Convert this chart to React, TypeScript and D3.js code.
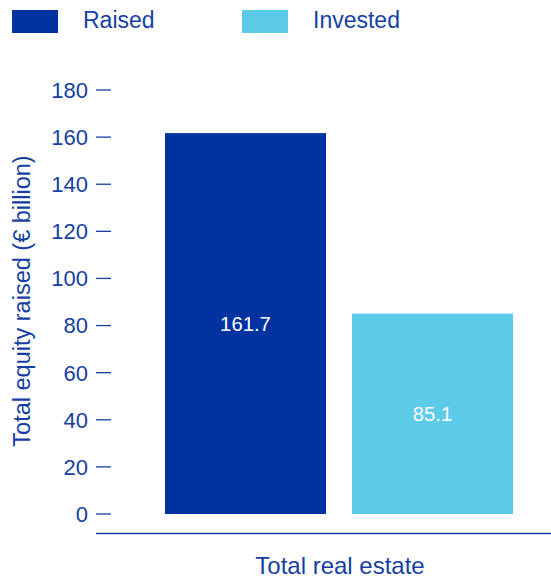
import React from "react";
import * as d3 from "d3";

const categories = ["Total real estate"];
const seriesNames = ["Raised", "Invested"];
const raisedValues = [161.7];
const investedValues = [85.1];
const yTicks = [0, 20, 40, 60, 80, 100, 120, 140, 160, 180];
const colors = ["#0033A0", "#5BCBE8"];
const textColor = "#163FA3";
const font = "'Liberation Sans', Arial, sans-serif";

export default function App() {
  const W = 551, H = 579;
  const y = d3.scaleLinear().domain([0, 180]).range([514, 90]);
  const x0 = d3.scaleBand<string>().domain(categories).range([165, 513]).padding(0);
  const x1 = d3.scaleBand<string>().domain(seriesNames).range([0, x0.bandwidth()]).paddingInner(0.139).paddingOuter(0);
  const series = [raisedValues, investedValues];

  return (
    <svg width={W} height={H} style={{ position: "absolute", left: 0, top: 0, fontFamily: font }}>
      {/* legend */}
      {seriesNames.map((s, i) => (
        <g key={s} transform={`translate(${[12, 242][i]},0)`}>
          <rect x={0} y={10} width={46} height={23} fill={colors[i]} />
          <text x={71} y={28} fontSize={23} fill={textColor}>{s}</text>
        </g>
      ))}
      {/* y ticks */}
      {yTicks.map((t) => (
        <g key={t}>
          <line x1={96} x2={111} y1={y(t)} y2={y(t)} stroke={textColor} strokeWidth={1.3} />
          <text x={88} y={y(t)} dy="0.36em" textAnchor="end" fontSize={22} fill={textColor}>{t}</text>
        </g>
      ))}
      {/* y label */}
      <text transform={`translate(30,301) rotate(-90)`} textAnchor="middle" fontSize={23.5} fill={textColor}>
        Total equity raised (€ billion)
      </text>
      {/* bars */}
      {categories.map((c, ci) => (
        <g key={c} transform={`translate(${x0(c)},0)`}>
          {seriesNames.map((s, si) => {
            const v = series[si][ci];
            const bx = x1(s)!;
            const top = y(v);
            return (
              <g key={s}>
                <rect x={bx} y={top} width={x1.bandwidth()} height={y(0) - top} fill={colors[si]} />
                <text x={bx + x1.bandwidth() / 2} y={(top + y(0)) / 2} dy="0.36em" textAnchor="middle" fontSize={20.3} fill="#ffffff">
                  {v.toFixed(1)}
                </text>
              </g>
            );
          })}
          <text x={x0.bandwidth() / 2 + 1} y={574} textAnchor="middle" fontSize={24} fill={textColor}>{c}</text>
        </g>
      ))}
      {/* x axis line */}
      <line x1={96} x2={551} y1={533.5} y2={533.5} stroke={textColor} strokeWidth={1.5} />
    </svg>
  );
}
